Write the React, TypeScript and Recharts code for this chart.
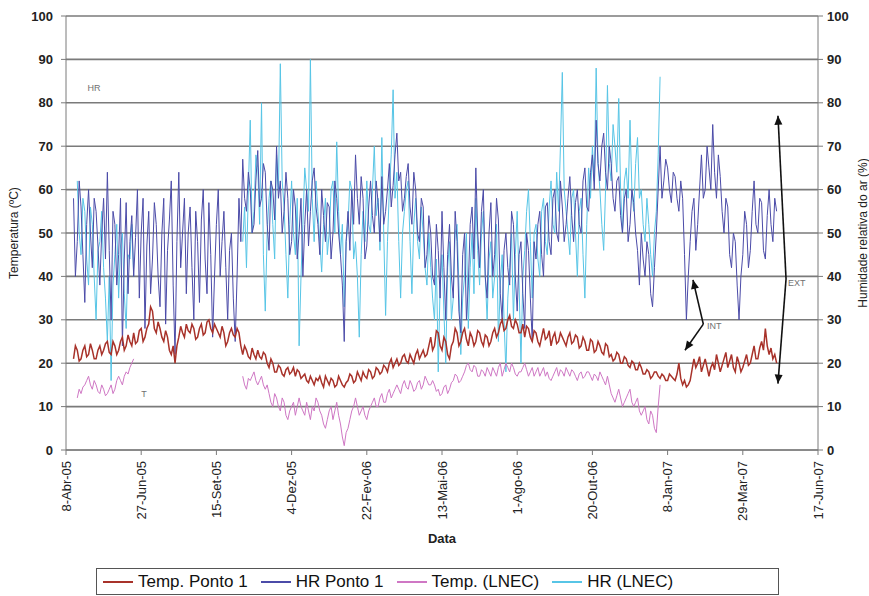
import React from "react";
import {
  ComposedChart, Line, XAxis, YAxis, CartesianGrid, Legend,
  ReferenceLine, ReferenceDot,
} from "recharts";

// x axis: days since 8-Abr-05, one reading every 2 days starting at day 8
const START_DAY = 8;
const STEP_DAYS = 2;

const dateTicks = [0, 80, 160, 240, 320, 400, 480, 560, 640, 720, 800];
const dateLabels = [
  "8-Abr-05", "27-Jun-05", "15-Set-05", "4-Dez-05", "22-Fev-06", "13-Mai-06",
  "1-Ago-06", "20-Out-06", "8-Jan-07", "29-Mar-07", "17-Jun-07",
];
const valueTicks = [0, 10, 20, 30, 40, 50, 60, 70, 80, 90, 100];

const tempPonto1 = [
  21, 24, 23, 20.5, 21, 23, 24, 21.5, 22, 24.5, 23, 21, 21, 23, 24, 22, 23, 24.5, 25, 22.5,
  22, 25, 24, 22, 23, 25, 26, 23, 24, 26.5, 25, 24, 27, 24.5, 25, 27.5, 28, 25, 26, 28,
  29, 33, 32, 28, 27, 29.5, 28, 26, 25, 27.5, 26, 23, 22, 24, 20, 24, 26, 28.5, 27, 26,
  29, 27.5, 27, 29, 28, 25.5, 26, 28, 29, 26.5, 27, 29.5, 30, 28, 27, 29, 28, 27, 26, 28.5,
  27, 24, 25, 27, 28, 26.5, 26, 28, 27, 24, 22, 24, 23, 21.5, 21, 23.5, 22, 21, 23, 21.5,
  21, 22.5, 22, 20, 19, 21, 20, 18, 18, 19.5, 19, 17.5, 17, 18.5, 19, 17.5, 18, 19, 17, 18.5,
  18, 16.5, 17, 17.5, 16, 15.5, 17, 16, 15, 16.5, 16, 17, 15.5, 14.5, 17, 16, 15, 16.5, 16, 14.5,
  15, 17, 16, 15, 14.5, 15.5, 16, 17.5, 17, 15.5, 16, 18, 17, 16, 18, 17, 16.5, 18.5, 18, 16.5,
  17, 19, 18.5, 17.5, 18, 19.5, 19, 18, 20, 21, 19, 20, 21, 19.5, 20, 21.5, 22, 20.5, 20, 22,
  21, 20, 22, 23, 21, 22, 23, 21.5, 22, 24, 26, 23, 24, 27.5, 27, 24, 23, 26, 25, 22,
  21, 24, 25, 28, 27, 24, 25, 27, 28, 25.5, 24, 27, 26, 24, 25, 27.5, 27, 25, 24, 26.5,
  26, 24, 25, 27, 28, 26, 27, 29, 30, 27.5, 28, 30, 31, 28.5, 28, 30, 29, 27, 27, 29,
  26, 28.5, 28, 26, 25, 27.5, 27, 25, 24, 26, 28, 25.5, 26, 27.5, 24, 26, 27, 24.5, 25, 27,
  26, 25, 24, 26, 27, 24.5, 25, 26.5, 26, 23.5, 24, 26, 25, 23, 23, 25.5, 25, 22.5, 23, 25,
  24, 22.5, 22, 24.5, 24, 21.5, 22, 20.5, 21, 22.5, 22, 20, 20, 21.5, 21, 19.5, 19, 20.5, 20, 18.5,
  18.5, 20, 19, 17.5, 17.5, 18.5, 18, 16.5, 17, 18, 18, 17, 16.5, 17.5, 17, 16, 16, 17.5, 17, 16.5,
  16, 17.5, 20, 16.5, 15, 16, 14.5, 15, 16, 18.5, 21, 19, 20, 21.5, 18, 19.5, 21, 19, 17, 19,
  20, 18.5, 22, 20, 18, 19.5, 21, 22.5, 19, 20.5, 22, 19, 18, 21.5, 20, 18, 19, 20.5, 22, 19.5,
  20, 22, 24, 21, 21, 23.5, 25, 23, 28, 24, 22, 23.5, 21, 22, 20,
];

const hrPonto1 = [
  58, 40, 48, 62, 56, 45, 34, 52, 60, 50, 42, 58, 55, 47, 38, 50, 58, 44, 64, 46,
  30, 55, 52, 38, 45, 58, 24, 44, 57, 36, 48, 54, 40, 49, 60, 35, 50, 58, 28, 47,
  55, 36, 44, 57, 52, 40, 33, 50, 58, 29, 46, 53, 62, 38, 22, 48, 64, 42, 50, 58,
  36, 50, 56, 42, 30, 55, 48, 34, 53, 60, 44, 36, 57, 45, 26, 40, 52, 60, 40, 48,
  55, 42, 30, 46, 50, 35, 25, 40, 58, 48, 67, 58, 55, 64, 60, 50, 52, 62, 69, 56,
  58, 66, 64, 52, 46, 62, 60, 53, 70, 58, 62, 50, 55, 64, 58, 45, 48, 60, 56, 44,
  50, 58, 40, 52, 60, 47, 55, 62, 65, 56, 52, 45, 60, 54, 48, 57, 56, 44, 50, 62,
  58, 50, 45, 38, 25, 48, 55, 46, 60, 52, 68, 58, 52, 63, 58, 44, 47, 56, 62, 54,
  50, 62, 57, 48, 63, 52, 55, 60, 66, 56, 61, 68, 73, 62, 64, 55, 58, 63, 66, 56,
  52, 64, 60, 50, 48, 58, 56, 42, 45, 54, 50, 40, 38, 52, 46, 35, 55, 42, 30, 45,
  52, 40, 35, 55, 48, 32, 27, 45, 50, 30, 38, 52, 56, 44, 65, 50, 42, 55, 60, 40,
  35, 50, 57, 40, 45, 58, 53, 36, 30, 46, 50, 42, 38, 55, 52, 40, 32, 45, 48, 36,
  28, 50, 46, 35, 25, 48, 44, 52, 55, 45, 40, 56, 57, 48, 45, 58, 60, 50, 48, 62,
  56, 48, 52, 58, 63, 54, 48, 57, 60, 52, 50, 62, 65, 56, 55, 64, 68, 60, 76, 66,
  62, 70, 73, 64, 60, 70, 66, 58, 55, 62, 63, 54, 50, 58, 60, 48, 52, 60, 57, 50,
  46, 38, 50, 44, 40, 48, 45, 36, 33, 42, 50, 60, 70, 58, 62, 67, 65, 60, 57, 64,
  63, 58, 55, 62, 58, 45, 30, 40, 48, 55, 58, 46, 52, 60, 68, 58, 60, 70, 65, 60,
  75, 64, 58, 68, 63, 55, 50, 58, 56, 45, 42, 50, 48, 38, 30, 40, 45, 55, 52, 42,
  46, 55, 62, 52, 50, 58, 57, 46, 44, 54, 60, 52, 48, 58, 55,
];

// LNEC station: two recording periods (row index of the first reading)
const LNEC_A_START = 2;
const LNEC_B_START = 90;

const tempLnecA = [
  12, 14, 13, 14.5, 15, 16, 17, 15, 14, 16, 15, 13.5, 13, 15, 14, 12.5,
  13, 14, 15, 13, 14, 16, 17, 16, 15, 17, 18, 17.5, 19, 20, 21,
];
const tempLnecB = [
  17, 15, 14, 16.5, 16, 17, 18, 16, 15, 16, 17, 15, 14, 15, 13, 11, 10, 13, 12, 10,
  9, 12, 11, 8, 7, 9, 10, 11, 8, 10, 12, 10, 9, 8, 11, 9, 7, 10, 9, 12,
  11, 9, 8, 6, 5, 7, 9, 10, 7, 9, 11, 8, 6, 3, 1, 4, 5, 7, 9, 10,
  12, 10, 8, 9, 10, 8, 7, 9, 10, 11, 12, 10, 10, 12, 13, 11, 11, 13, 14, 12,
  13, 14, 15, 14, 13, 15, 16, 14.5, 14, 16, 15, 13.5, 14, 15.5, 16, 14, 15, 17, 16, 15,
  15, 16, 15, 13.5, 14, 12.5, 13, 14.5, 15, 13, 14, 15.5, 16, 17.5, 17, 15.5, 16, 17, 18, 19.5,
  20, 18.5, 18, 19.5, 19, 17, 17, 18.5, 18, 17, 19, 18, 17, 19, 18, 17, 19, 20, 17, 18.5,
  20, 19, 18, 20, 19, 17.5, 17, 18, 18, 19, 20, 18.5, 17, 18, 19, 17, 18, 19, 17, 18,
  19, 17, 18, 16.5, 16, 17, 18, 19, 17, 18.5, 18, 17, 19, 18, 17, 18.5, 18, 17, 16, 17.5,
  18, 16.5, 17, 18, 18, 17, 16, 17.5, 17, 16, 18, 17, 16, 15, 17, 15, 13, 12, 11, 12.5,
  14, 12, 10, 11, 12, 13, 14, 11, 10, 11, 12, 9, 8, 9, 10, 7, 6, 9, 8, 5,
  4, 10, 15,
];

const hrLnecA = [
  62, 50, 45, 58, 55, 44, 38, 56, 52, 40, 30, 46, 48, 55, 42, 35,
  25, 40, 16, 38, 45, 52, 35, 47, 50, 36, 28, 45, 44, 52, 40,
];
const hrLnecB = [
  48, 56, 42, 60, 76, 50, 55, 68, 65, 52, 80, 45, 32, 50, 58, 62, 52, 44, 68, 60,
  89, 62, 56, 45, 35, 52, 62, 50, 45, 58, 24, 40, 52, 65, 60, 55, 90, 58, 48, 62,
  55, 48, 41, 52, 58, 45, 50, 60, 62, 50, 71, 55, 45, 52, 33, 48, 52, 62, 60, 44,
  48, 40, 26, 45, 55, 48, 62, 52, 50, 60, 70, 54, 58, 46, 72, 50, 31, 48, 60, 68,
  83, 58, 64, 48, 35, 50, 55, 60, 62, 48, 36, 52, 58, 48, 44, 56, 50, 42, 38, 50,
  42, 35, 30, 44, 18, 38, 45, 32, 20, 42, 48, 30, 35, 50, 52, 38, 22, 35, 40, 50,
  28, 42, 50, 36, 58, 46, 38, 50, 55, 40, 30, 44, 48, 35, 40, 52, 25, 38, 45, 30,
  18, 35, 42, 50, 30, 45, 55, 38, 20, 40, 46, 55, 60, 48, 35, 50, 52, 44, 40, 55,
  58, 48, 45, 56, 62, 52, 50, 64, 55, 70, 87, 60, 55, 50, 45, 58, 60, 50, 40, 55,
  58, 45, 35, 52, 65, 58, 70, 62, 88, 66, 60, 52, 46, 60, 84, 66, 62, 75, 70, 64,
  81, 60, 50, 62, 65, 58, 76, 60, 55, 66, 72, 58, 60, 52, 48, 58, 52, 45, 40, 50,
  55, 68, 86,
];

const seriesNames = ["Temp. Ponto 1", "HR Ponto 1", "Temp. (LNEC)", "HR (LNEC)"];
const seriesColors = ["#A8322A", "#4B4BA8", "#CF77C4", "#57C5E6"];

function pick(seg: number[], start: number, k: number): number | null {
  return k >= start && k < start + seg.length ? seg[k - start] : null;
}

const rows = tempPonto1.map((t, k) => ({
  day: START_DAY + k * STEP_DAYS,
  tempP1: t,
  hrP1: hrPonto1[k],
  tempLnec: pick(tempLnecA, LNEC_A_START, k) ?? pick(tempLnecB, LNEC_B_START, k),
  hrLnec: pick(hrLnecA, LNEC_A_START, k) ?? pick(hrLnecB, LNEC_B_START, k),
}));

const FONT = "'Liberation Sans', Arial, sans-serif";

function DateTick(props: any) {
  const { x, y, payload } = props;
  const i = dateTicks.indexOf(payload.value);
  return (
    <text
      x={x} y={y} dy="0.35em" textAnchor="end"
      transform={`rotate(-90, ${x}, ${y})`}
      fontSize={13} fontFamily={FONT} fill="#222"
    >
      {dateLabels[i]}
    </text>
  );
}

function axisTitle(text: string, dxFromLeft: number) {
  return (p: any) => {
    const vb = p.viewBox;
    const cx = vb.x + dxFromLeft;
    const cy = vb.y + vb.height / 2;
    return (
      <text
        x={cx} y={cy} dy="0.35em" textAnchor="middle"
        transform={`rotate(-90, ${cx}, ${cy})`}
        fontSize={12} fontFamily={FONT} fill="#222"
      >
        {text}
      </text>
    );
  };
}

// line with optional arrow heads at either end
function arrow(headStart: boolean, headEnd: boolean) {
  return (p: any) => {
    const { x1, y1, x2, y2 } = p;
    const head = (tx: number, ty: number, fx: number, fy: number) => {
      const a = Math.atan2(ty - fy, tx - fx);
      const L = 9, W = 4;
      const bx = tx - L * Math.cos(a), by = ty - L * Math.sin(a);
      const pts = [
        `${tx},${ty}`,
        `${bx + W * Math.sin(a)},${by - W * Math.cos(a)}`,
        `${bx - W * Math.sin(a)},${by + W * Math.cos(a)}`,
      ].join(" ");
      return <polygon points={pts} fill="#111" />;
    };
    return (
      <g>
        <line x1={x1} y1={y1} x2={x2} y2={y2} stroke="#111" strokeWidth={1.6} />
        {headStart && head(x1, y1, x2, y2)}
        {headEnd && head(x2, y2, x1, y1)}
      </g>
    );
  };
}

function note(text: string) {
  return (p: any) => (
    <text x={p.cx} y={p.cy} dy="0.35em" fontSize={9} fontFamily={FONT} fill="#707070">
      {text}
    </text>
  );
}

function LegendBox() {
  return (
    <div
      style={{
        width: 683, height: 27, boxSizing: "border-box", border: "1px solid #555",
        background: "#fff", display: "flex", alignItems: "center", gap: 13,
        paddingLeft: 6, fontFamily: FONT, fontSize: 17, color: "#111",
      }}
    >
      {seriesNames.map((name, i) => (
        <div key={name} style={{ display: "flex", alignItems: "center" }}>
          <span style={{ display: "inline-block", width: 30, height: 2, background: seriesColors[i], marginRight: 5 }} />
          <span>{name}</span>
        </div>
      ))}
    </div>
  );
}

export default function App() {
  return (
    <div style={{ position: "absolute", left: 0, top: 0, width: 869, height: 596, background: "#fff" }}>
      <ComposedChart
        width={869}
        height={596}
        data={rows}
        margin={{ top: 16, right: 0, bottom: 1, left: 0 }}
      >
        <CartesianGrid yAxisId="left" vertical={false} stroke="#7a7a7a" strokeWidth={1.6} />
        <XAxis
          dataKey="day"
          type="number"
          domain={[0, 800]}
          ticks={dateTicks}
          interval={0}
          height={118}
          tick={<DateTick />}
          tickSize={5}
          tickMargin={6}
          stroke="#7a7a7a"
          label={{ value: "Data", position: "insideBottom", offset: 25, fontSize: 13, fontWeight: "bold", fontFamily: FONT, fill: "#222" }}
        />
        <YAxis
          yAxisId="left"
          domain={[0, 100]}
          ticks={valueTicks}
          interval={0}
          width={66}
          tickSize={5}
          tickMargin={8}
          stroke="#7a7a7a"
          tick={{ fontSize: 13, fontWeight: "bold", fontFamily: FONT, fill: "#222" }}
          label={{ content: axisTitle("Temperatura (ºC)", 14) }}
        />
        <YAxis
          yAxisId="right"
          orientation="right"
          domain={[0, 100]}
          ticks={valueTicks}
          interval={0}
          width={51}
          tickSize={5}
          tickMargin={4}
          stroke="#7a7a7a"
          tick={{ fontSize: 13, fontWeight: "bold", fontFamily: FONT, fill: "#222" }}
          label={{ content: axisTitle("Humidade relativa do ar (%)", 45) }}
        />
        <Legend
          verticalAlign="bottom"
          wrapperStyle={{ left: 96, width: 683, height: 27 }}
          content={() => <LegendBox />}
        />
        <Line yAxisId="right" dataKey="hrLnec" name={seriesNames[3]} stroke={seriesColors[3]}
          strokeWidth={1} dot={false} connectNulls={false} isAnimationActive={false} />
        <Line yAxisId="right" dataKey="hrP1" name={seriesNames[1]} stroke={seriesColors[1]}
          strokeWidth={1} dot={false} isAnimationActive={false} />
        <Line yAxisId="left" dataKey="tempP1" name={seriesNames[0]} stroke={seriesColors[0]}
          strokeWidth={1.5} dot={false} isAnimationActive={false} />
        <Line yAxisId="left" dataKey="tempLnec" name={seriesNames[2]} stroke={seriesColors[2]}
          strokeWidth={1} dot={false} connectNulls={false} isAnimationActive={false} />

        {/* INT / EXT arrows */}
        <ReferenceLine yAxisId="left" segment={[{ x: 667, y: 39.2 }, { x: 678, y: 29 }]} shape={arrow(true, false)} />
        <ReferenceLine yAxisId="left" segment={[{ x: 678, y: 29 }, { x: 658.5, y: 23 }]} shape={arrow(false, true)} />
        <ReferenceLine yAxisId="left" segment={[{ x: 757.4, y: 77 }, { x: 766, y: 39.4 }]} shape={arrow(true, false)} />
        <ReferenceLine yAxisId="left" segment={[{ x: 766, y: 39.4 }, { x: 757.4, y: 15.3 }]} shape={arrow(false, true)} />

        <ReferenceDot yAxisId="left" x={23} y={83.4} r={0} shape={note("HR")} />
        <ReferenceDot yAxisId="left" x={80} y={13} r={0} shape={note("T")} />
        <ReferenceDot yAxisId="left" x={682} y={28.6} r={0} shape={note("INT")} />
        <ReferenceDot yAxisId="left" x={768} y={38.6} r={0} shape={note("EXT")} />
      </ComposedChart>
    </div>
  );
}
